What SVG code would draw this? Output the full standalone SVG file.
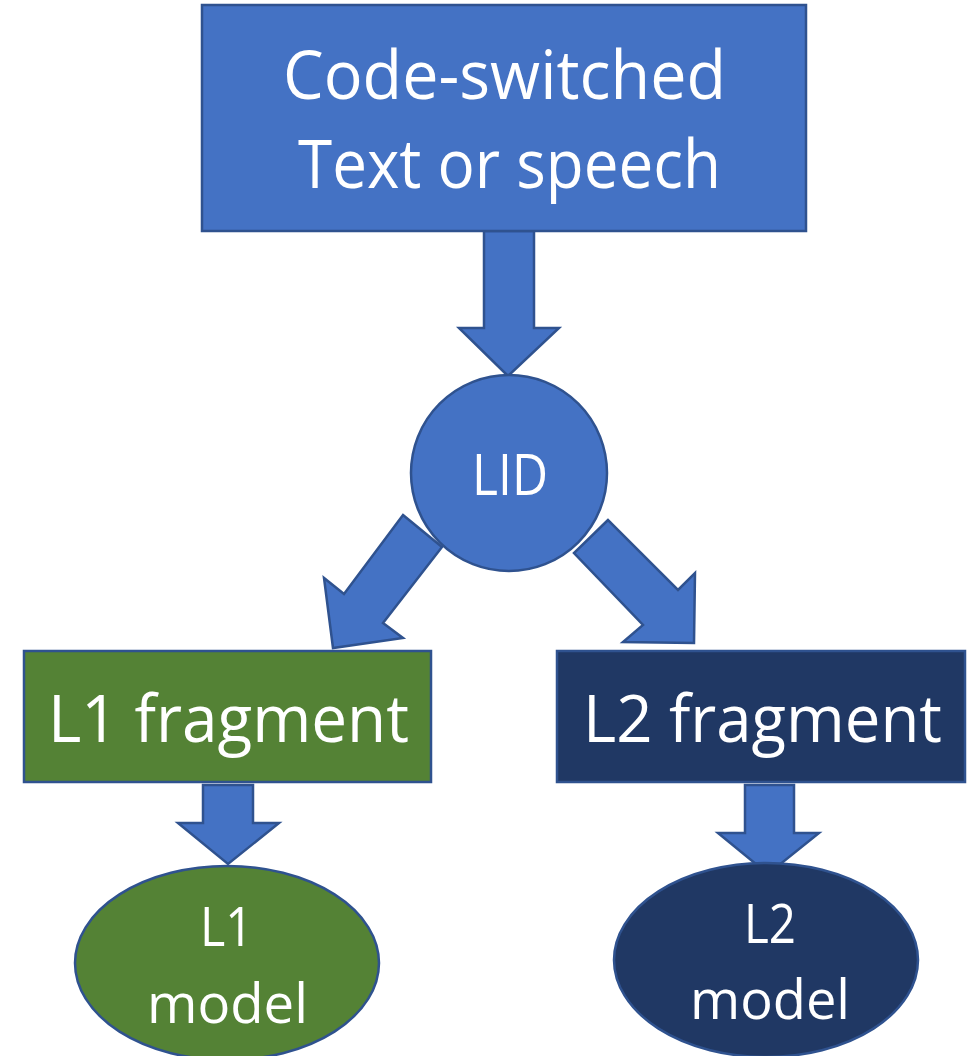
<svg xmlns="http://www.w3.org/2000/svg" width="977" height="1056" viewBox="0 0 977 1056">
  <style>
    .blue { fill: #4472C4; stroke: #2F528F; stroke-width: 2.5; }
    .green { fill: #548235; stroke: #2F528F; stroke-width: 2.5; }
    .navy { fill: #203864; stroke: #2F528F; stroke-width: 2.5; }
    .lbl { fill: #FFFFFF; font-family: "Open Sans", "Noto Sans", sans-serif; }
  </style>
  <rect width="977" height="1056" fill="#FFFFFF"/>

  <!-- block arrows between nodes -->
  <g id="connectors">
    <polygon class="blue" points="484,231 534,231 534,328 559,328 508,376 459,328 484,328"/>
    <polygon class="blue" points="403,515 442,547 383,623 403,638 333,648 324,578 344,594"/>
    <polygon class="blue" points="608,520 574,553 643,625 623,642 694,643 695,573 678,590"/>
    <polygon class="blue" points="203,785 253,785 253,823 279,823 228,864 178,823 203,823"/>
    <polygon class="blue" points="745,785 794,785 794,833 819,833 768,874 718,833 745,833"/>
  </g>

  <g id="input">
    <rect class="blue" x="202" y="5" width="604" height="226"/>
    <text class="lbl" x="283" y="99" font-size="68" textLength="443" lengthAdjust="spacingAndGlyphs">Code-switched</text>
    <text class="lbl" x="298" y="188" font-size="68" textLength="423" lengthAdjust="spacingAndGlyphs">Text or speech</text>
  </g>

  <g id="lid">
    <circle class="blue" cx="509" cy="473" r="98"/>
    <text class="lbl" x="472" y="495" font-size="56" textLength="76" lengthAdjust="spacingAndGlyphs">LID</text>
  </g>

  <g id="l1-fragment">
    <rect class="green" x="24" y="651" width="407" height="131"/>
    <text class="lbl" x="48" y="742" font-size="66" textLength="361" lengthAdjust="spacingAndGlyphs">L1 fragment</text>
  </g>

  <g id="l2-fragment">
    <rect class="navy" x="557" y="651" width="408" height="131"/>
    <text class="lbl" x="583" y="742" font-size="66" textLength="359" lengthAdjust="spacingAndGlyphs">L2 fragment</text>
  </g>

  <g id="l1-model">
    <ellipse class="green" cx="227" cy="963" rx="152" ry="97"/>
    <text class="lbl" x="200" y="946" font-size="55" textLength="53" lengthAdjust="spacingAndGlyphs">L1</text>
    <text class="lbl" x="147" y="1023" font-size="55" textLength="161" lengthAdjust="spacingAndGlyphs">model</text>
  </g>

  <g id="l2-model">
    <ellipse class="navy" cx="766" cy="960" rx="152" ry="97"/>
    <text class="lbl" x="744" y="943" font-size="55" textLength="52" lengthAdjust="spacingAndGlyphs">L2</text>
    <text class="lbl" x="690" y="1019" font-size="55" textLength="160" lengthAdjust="spacingAndGlyphs">model</text>
  </g>
</svg>
